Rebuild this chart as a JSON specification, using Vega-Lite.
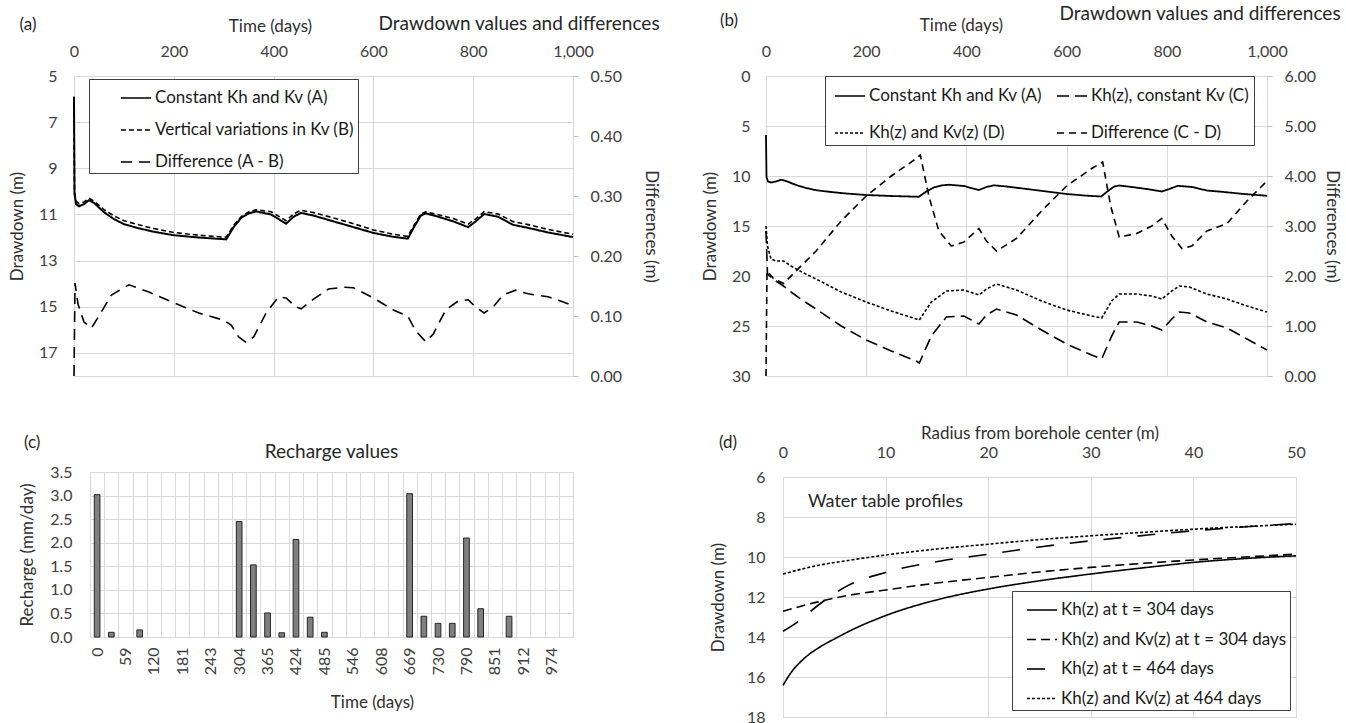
{
 "$schema": "https://vega.github.io/schema/vega-lite/v6.json",
 "autosize": "none",
 "padding": {"left": 74, "top": 76, "right": 1272, "bottom": 647},
 "background": "white",
 "config": {
  "font": "Lato",
  "view": {"stroke": null},
  "axis": {"labelFontSize": 16, "titleFontSize": 17, "titleFontWeight": "normal", "labelColor": "#404040", "titleColor": "#303030", "gridColor": "#d9d9d9", "domain": false, "ticks": false, "tickColor": "#bfbfbf", "labelFlush": false, "labelOverlap": false},
  "legend": {"labelFontSize": 17, "labelColor": "#1a1a1a", "strokeColor": "#404040", "fillColor": "white", "symbolSize": 900, "symbolStrokeWidth": 1.6, "symbolStrokeColor": "black", "labelLimit": 400, "labelOffset": 3},
  "title": {"fontWeight": "normal", "color": "#262626"},
  "line": {"color": "black", "strokeWidth": 1.6},
  "text": {"color": "#262626"}
 },
 "datasets": {
  "curveA": [
   {"t":0,"v":5.9,"s":"A"},{"t":1,"v":10.1,"s":"A"},{"t":4,"v":10.55,"s":"A"},{"t":10,"v":10.65,"s":"A"},{"t":20,"v":10.55,"s":"A"},{"t":30,"v":10.38,"s":"A"},{"t":40,"v":10.5,"s":"A"},{"t":60,"v":10.9,"s":"A"},{"t":80,"v":11.2,"s":"A"},{"t":100,"v":11.42,"s":"A"},{"t":130,"v":11.6,"s":"A"},{"t":160,"v":11.75,"s":"A"},{"t":200,"v":11.9,"s":"A"},{"t":250,"v":12.0,"s":"A"},{"t":300,"v":12.07,"s":"A"},{"t":305,"v":12.08,"s":"A"},{"t":320,"v":11.55,"s":"A"},{"t":335,"v":11.15,"s":"A"},{"t":350,"v":10.95,"s":"A"},{"t":365,"v":10.87,"s":"A"},{"t":395,"v":11.0,"s":"A"},{"t":425,"v":11.4,"s":"A"},{"t":440,"v":11.1,"s":"A"},{"t":455,"v":10.93,"s":"A"},{"t":480,"v":11.05,"s":"A"},{"t":520,"v":11.3,"s":"A"},{"t":560,"v":11.55,"s":"A"},{"t":600,"v":11.8,"s":"A"},{"t":640,"v":11.97,"s":"A"},{"t":669,"v":12.05,"s":"A"},{"t":680,"v":11.6,"s":"A"},{"t":695,"v":11.05,"s":"A"},{"t":705,"v":10.95,"s":"A"},{"t":730,"v":11.1,"s":"A"},{"t":760,"v":11.3,"s":"A"},{"t":790,"v":11.55,"s":"A"},{"t":805,"v":11.3,"s":"A"},{"t":822,"v":10.98,"s":"A"},{"t":850,"v":11.1,"s":"A"},{"t":880,"v":11.45,"s":"A"},{"t":910,"v":11.58,"s":"A"},{"t":950,"v":11.78,"s":"A"},{"t":1000,"v":11.98,"s":"A"}
  ],
  "aB": [
   {"t":0,"v":5.9,"s":"B"},{"t":1,"v":10.02,"s":"B"},{"t":4,"v":10.41,"s":"B"},{"t":10,"v":10.54,"s":"B"},{"t":20,"v":10.46,"s":"B"},{"t":30,"v":10.3,"s":"B"},{"t":40,"v":10.42,"s":"B"},{"t":60,"v":10.79,"s":"B"},{"t":80,"v":11.06,"s":"B"},{"t":100,"v":11.27,"s":"B"},{"t":130,"v":11.45,"s":"B"},{"t":160,"v":11.61,"s":"B"},{"t":200,"v":11.78,"s":"B"},{"t":250,"v":11.9,"s":"B"},{"t":300,"v":11.98,"s":"B"},{"t":305,"v":11.99,"s":"B"},{"t":320,"v":11.47,"s":"B"},{"t":335,"v":11.09,"s":"B"},{"t":350,"v":10.89,"s":"B"},{"t":365,"v":10.8,"s":"B"},{"t":395,"v":10.88,"s":"B"},{"t":425,"v":11.27,"s":"B"},{"t":440,"v":10.98,"s":"B"},{"t":455,"v":10.82,"s":"B"},{"t":480,"v":10.92,"s":"B"},{"t":520,"v":11.15,"s":"B"},{"t":560,"v":11.4,"s":"B"},{"t":600,"v":11.67,"s":"B"},{"t":640,"v":11.86,"s":"B"},{"t":669,"v":11.95,"s":"B"},{"t":680,"v":11.52,"s":"B"},{"t":695,"v":10.98,"s":"B"},{"t":705,"v":10.89,"s":"B"},{"t":730,"v":11.01,"s":"B"},{"t":760,"v":11.18,"s":"B"},{"t":790,"v":11.42,"s":"B"},{"t":805,"v":11.19,"s":"B"},{"t":822,"v":10.88,"s":"B"},{"t":850,"v":10.98,"s":"B"},{"t":880,"v":11.31,"s":"B"},{"t":910,"v":11.44,"s":"B"},{"t":950,"v":11.65,"s":"B"},{"t":1000,"v":11.86,"s":"B"}
  ],
  "aDiff": [
   {"t":0,"v":0,"s":"D"},{"t":2,"v":0.155,"s":"D"},{"t":8,"v":0.12,"s":"D"},{"t":20,"v":0.09,"s":"D"},{"t":35,"v":0.08,"s":"D"},{"t":50,"v":0.1,"s":"D"},{"t":75,"v":0.135,"s":"D"},{"t":110,"v":0.152,"s":"D"},{"t":150,"v":0.14,"s":"D"},{"t":200,"v":0.122,"s":"D"},{"t":250,"v":0.105,"s":"D"},{"t":300,"v":0.093,"s":"D"},{"t":315,"v":0.085,"s":"D"},{"t":330,"v":0.065,"s":"D"},{"t":345,"v":0.056,"s":"D"},{"t":360,"v":0.065,"s":"D"},{"t":385,"v":0.105,"s":"D"},{"t":410,"v":0.132,"s":"D"},{"t":425,"v":0.13,"s":"D"},{"t":445,"v":0.115,"s":"D"},{"t":455,"v":0.112,"s":"D"},{"t":480,"v":0.128,"s":"D"},{"t":510,"v":0.145,"s":"D"},{"t":540,"v":0.148,"s":"D"},{"t":560,"v":0.147,"s":"D"},{"t":600,"v":0.13,"s":"D"},{"t":640,"v":0.11,"s":"D"},{"t":669,"v":0.1,"s":"D"},{"t":685,"v":0.075,"s":"D"},{"t":705,"v":0.057,"s":"D"},{"t":720,"v":0.07,"s":"D"},{"t":745,"v":0.11,"s":"D"},{"t":770,"v":0.125,"s":"D"},{"t":790,"v":0.127,"s":"D"},{"t":805,"v":0.115,"s":"D"},{"t":822,"v":0.105,"s":"D"},{"t":840,"v":0.115,"s":"D"},{"t":860,"v":0.135,"s":"D"},{"t":885,"v":0.143,"s":"D"},{"t":910,"v":0.137,"s":"D"},{"t":950,"v":0.132,"s":"D"},{"t":975,"v":0.125,"s":"D"},{"t":1000,"v":0.117,"s":"D"}
  ],
  "bCD": [
   {"t":0,"v":15.5,"s":"C"},{"t":3,"v":19.8,"s":"C"},{"t":10,"v":20.1,"s":"C"},{"t":20,"v":20.5,"s":"C"},{"t":35,"v":21.0,"s":"C"},{"t":50,"v":21.6,"s":"C"},{"t":75,"v":22.5,"s":"C"},{"t":100,"v":23.3,"s":"C"},{"t":150,"v":25.0,"s":"C"},{"t":200,"v":26.4,"s":"C"},{"t":250,"v":27.5,"s":"C"},{"t":300,"v":28.5,"s":"C"},{"t":306,"v":28.7,"s":"C"},{"t":330,"v":26.0,"s":"C"},{"t":360,"v":24.1,"s":"C"},{"t":395,"v":24.0,"s":"C"},{"t":425,"v":24.8,"s":"C"},{"t":440,"v":23.9,"s":"C"},{"t":460,"v":23.3,"s":"C"},{"t":500,"v":23.9,"s":"C"},{"t":550,"v":25.4,"s":"C"},{"t":600,"v":26.8,"s":"C"},{"t":650,"v":27.9,"s":"C"},{"t":670,"v":28.3,"s":"C"},{"t":690,"v":26.0,"s":"C"},{"t":705,"v":24.6,"s":"C"},{"t":740,"v":24.6,"s":"C"},{"t":770,"v":25.0,"s":"C"},{"t":790,"v":25.4,"s":"C"},{"t":810,"v":24.3,"s":"C"},{"t":825,"v":23.6,"s":"C"},{"t":845,"v":23.7,"s":"C"},{"t":880,"v":24.6,"s":"C"},{"t":920,"v":25.2,"s":"C"},{"t":960,"v":26.3,"s":"C"},{"t":1000,"v":27.4,"s":"C"},
   {"t":0,"v":15.0,"s":"D"},{"t":3,"v":17.0,"s":"D"},{"t":10,"v":18.3,"s":"D"},{"t":20,"v":18.5,"s":"D"},{"t":35,"v":18.5,"s":"D"},{"t":50,"v":19.0,"s":"D"},{"t":75,"v":19.7,"s":"D"},{"t":100,"v":20.3,"s":"D"},{"t":150,"v":21.6,"s":"D"},{"t":200,"v":22.6,"s":"D"},{"t":250,"v":23.5,"s":"D"},{"t":300,"v":24.3,"s":"D"},{"t":306,"v":24.4,"s":"D"},{"t":330,"v":22.6,"s":"D"},{"t":360,"v":21.5,"s":"D"},{"t":395,"v":21.4,"s":"D"},{"t":425,"v":21.9,"s":"D"},{"t":440,"v":21.3,"s":"D"},{"t":460,"v":20.8,"s":"D"},{"t":500,"v":21.4,"s":"D"},{"t":550,"v":22.5,"s":"D"},{"t":600,"v":23.4,"s":"D"},{"t":650,"v":24.0,"s":"D"},{"t":670,"v":24.2,"s":"D"},{"t":690,"v":22.5,"s":"D"},{"t":705,"v":21.8,"s":"D"},{"t":740,"v":21.8,"s":"D"},{"t":770,"v":22.0,"s":"D"},{"t":790,"v":22.3,"s":"D"},{"t":810,"v":21.5,"s":"D"},{"t":825,"v":21.0,"s":"D"},{"t":845,"v":21.1,"s":"D"},{"t":880,"v":21.8,"s":"D"},{"t":920,"v":22.3,"s":"D"},{"t":960,"v":23.0,"s":"D"},{"t":1000,"v":23.6,"s":"D"}
  ],
  "bDiff": [
   {"t":0,"v":0,"s":"E"},{"t":2,"v":2.1,"s":"E"},{"t":15,"v":1.95,"s":"E"},{"t":35,"v":1.85,"s":"E"},{"t":60,"v":2.1,"s":"E"},{"t":100,"v":2.5,"s":"E"},{"t":150,"v":3.1,"s":"E"},{"t":200,"v":3.6,"s":"E"},{"t":250,"v":4.0,"s":"E"},{"t":300,"v":4.35,"s":"E"},{"t":308,"v":4.42,"s":"E"},{"t":325,"v":3.6,"s":"E"},{"t":345,"v":2.9,"s":"E"},{"t":370,"v":2.6,"s":"E"},{"t":395,"v":2.68,"s":"E"},{"t":425,"v":2.95,"s":"E"},{"t":440,"v":2.7,"s":"E"},{"t":460,"v":2.5,"s":"E"},{"t":500,"v":2.75,"s":"E"},{"t":550,"v":3.3,"s":"E"},{"t":600,"v":3.8,"s":"E"},{"t":650,"v":4.15,"s":"E"},{"t":672,"v":4.28,"s":"E"},{"t":688,"v":3.4,"s":"E"},{"t":705,"v":2.78,"s":"E"},{"t":740,"v":2.85,"s":"E"},{"t":770,"v":3.0,"s":"E"},{"t":790,"v":3.15,"s":"E"},{"t":810,"v":2.8,"s":"E"},{"t":830,"v":2.55,"s":"E"},{"t":850,"v":2.6,"s":"E"},{"t":880,"v":2.9,"s":"E"},{"t":920,"v":3.05,"s":"E"},{"t":960,"v":3.5,"s":"E"},{"t":1000,"v":3.9,"s":"E"}
  ],
  "recharge": [
   {"t":0,"r":3.02},{"t":31,"r":0.1},{"t":90,"r":0.15},{"t":304,"r":2.45},{"t":334,"r":1.53},{"t":365,"r":0.51},{"t":396,"r":0.09},{"t":424,"r":2.07},{"t":455,"r":0.42},{"t":485,"r":0.1},{"t":669,"r":3.04},{"t":699,"r":0.44},{"t":730,"r":0.29},{"t":761,"r":0.29},{"t":790,"r":2.1},{"t":821,"r":0.6},{"t":882,"r":0.44}
  ],
  "profiles": [
   {"r":0,"v":16.42,"s":"P1"},{"r":0.7,"v":15.84,"s":"P1"},{"r":2,"v":15.1,"s":"P1"},{"r":3.6,"v":14.5,"s":"P1"},{"r":5,"v":14.1,"s":"P1"},{"r":6.9,"v":13.6,"s":"P1"},{"r":10,"v":12.93,"s":"P1"},{"r":14.7,"v":12.18,"s":"P1"},{"r":20,"v":11.6,"s":"P1"},{"r":25,"v":11.19,"s":"P1"},{"r":30,"v":10.85,"s":"P1"},{"r":36,"v":10.49,"s":"P1"},{"r":40,"v":10.27,"s":"P1"},{"r":44.3,"v":10.1,"s":"P1"},{"r":50,"v":9.94,"s":"P1"},
   {"r":0,"v":12.71,"s":"P2"},{"r":3.2,"v":12.27,"s":"P2"},{"r":6,"v":11.95,"s":"P2"},{"r":10,"v":11.65,"s":"P2"},{"r":15,"v":11.3,"s":"P2"},{"r":20,"v":11.02,"s":"P2"},{"r":25,"v":10.75,"s":"P2"},{"r":30,"v":10.52,"s":"P2"},{"r":35,"v":10.32,"s":"P2"},{"r":40,"v":10.15,"s":"P2"},{"r":45,"v":10.0,"s":"P2"},{"r":50,"v":9.86,"s":"P2"},
   {"r":0,"v":13.71,"s":"P3"},{"r":1.6,"v":13.18,"s":"P3"},{"r":3.2,"v":12.5,"s":"P3"},{"r":6,"v":11.52,"s":"P3"},{"r":10,"v":10.77,"s":"P3"},{"r":15.5,"v":10.19,"s":"P3"},{"r":20,"v":9.86,"s":"P3"},{"r":25,"v":9.5,"s":"P3"},{"r":30,"v":9.19,"s":"P3"},{"r":35,"v":8.93,"s":"P3"},{"r":40,"v":8.69,"s":"P3"},{"r":44,"v":8.53,"s":"P3"},{"r":50,"v":8.33,"s":"P3"},
   {"r":0,"v":10.85,"s":"P4"},{"r":3.2,"v":10.44,"s":"P4"},{"r":6,"v":10.2,"s":"P4"},{"r":10,"v":9.9,"s":"P4"},{"r":15,"v":9.6,"s":"P4"},{"r":20,"v":9.36,"s":"P4"},{"r":25,"v":9.13,"s":"P4"},{"r":30,"v":8.94,"s":"P4"},{"r":35,"v":8.77,"s":"P4"},{"r":40,"v":8.61,"s":"P4"},{"r":45,"v":8.48,"s":"P4"},{"r":50,"v":8.36,"s":"P4"}
  ]
 },
 "resolve": {"scale": {"strokeDash": "independent"}},
 "spacing": 396,
 "bounds": "flush",
 "vconcat": [
  {
   "hconcat": [
    {
     "width": 499, "height": 300,
     "view": {"stroke": "#d9d9d9"},
     "title": {"text": "Drawdown values and differences", "anchor": "end", "frame": "bounds", "fontSize": 19, "dy": 22},
     "resolve": {"scale": {"y": "independent"}},
     "layer": [
      {"layer": [
       {"data": {"name": "curveA"}, "mark": {"type": "line", "strokeWidth": 2},
        "encoding": {
         "x": {"field": "t", "type": "quantitative", "scale": {"domain": [0, 1000], "nice": false}, "axis": {"orient": "top", "title": "Time (days)", "values": [0,200,400,600,800,1000], "tickCount": 20, "format": ",d", "grid": true, "labelOverlap": false, "labelPadding": 17, "titleX": 196, "titleY": -45, "titleBaseline": "alphabetic"}},
         "y": {"field": "v", "type": "quantitative", "scale": {"domain": [5, 18], "reverse": true, "nice": false, "zero": false}, "axis": {"title": "Drawdown (m)", "values": [5,7,9,11,13,15,17], "tickCount": 20, "format": "d", "grid": true, "labelOverlap": false, "labelPadding": 17, "titlePadding": 12}},
         "strokeDash": {"field": "s", "type": "nominal", "scale": {"domain": ["A","B","D"], "range": [[1,0],[5,3],[11,7]]},
          "legend": {"title": " ", "titleOrient": "left", "titleFontSize": 2, "titlePadding": 28, "orient": "none", "legendX": 15, "legendY": 3, "padding": 3, "rowPadding": 8,
           "labelExpr": "datum.label == 'A' ? 'Constant Kh and Kv (A)' : datum.label == 'B' ? 'Vertical variations in Kv (B)' : 'Difference (A - B)'"}}
        }},
       {"data": {"name": "aB"}, "mark": {"type": "line", "strokeWidth": 1.6},
        "encoding": {
         "x": {"field": "t", "type": "quantitative"},
         "y": {"field": "v", "type": "quantitative"},
         "strokeDash": {"field": "s", "type": "nominal"}
        }},
       {"data": {"values": [{"label": "(a)"}]}, "mark": {"type": "text", "fontSize": 17, "dx": -46, "dy": -51},
        "encoding": {"x": {"datum": 0, "type": "quantitative"}, "y": {"datum": 5, "type": "quantitative"}, "text": {"field": "label"}}}
      ]},
      {"data": {"name": "aDiff"}, "mark": {"type": "line", "strokeWidth": 1.6},
       "encoding": {
        "x": {"field": "t", "type": "quantitative"},
        "y": {"field": "v", "type": "quantitative", "scale": {"domain": [0, 0.5], "nice": false}, "axis": {"orient": "right", "title": "Differences (m)", "values": [0,0.1,0.2,0.3,0.4,0.5], "tickCount": 20, "format": ".2f", "grid": false, "labelOverlap": false, "ticks": true, "tickSize": 5, "labelPadding": 12, "titlePadding": 20}},
        "strokeDash": {"field": "s", "type": "nominal"}
       }}
     ]
    },
    {
     "width": 501, "height": 300,
     "view": {"stroke": "#d9d9d9"},
     "title": {"text": "Drawdown values and differences", "anchor": "end", "frame": "bounds", "fontSize": 19, "dy": 16},
     "resolve": {"scale": {"y": "independent"}},
     "layer": [
      {"layer": [
       {"data": {"name": "curveA"}, "mark": {"type": "line", "strokeWidth": 1.8},
        "encoding": {
         "x": {"field": "t", "type": "quantitative", "scale": {"domain": [0, 1000], "nice": false}, "axis": {"orient": "top", "title": "Time (days)", "values": [0,200,400,600,800,1000], "tickCount": 20, "format": ",d", "grid": true, "labelOverlap": false, "labelPadding": 17, "titleX": 195, "titleY": -46, "titleBaseline": "alphabetic"}},
         "y": {"field": "v", "type": "quantitative", "scale": {"domain": [0, 30], "reverse": true, "nice": false, "zero": false}, "axis": {"title": "Drawdown (m)", "values": [0,5,10,15,20,25,30], "tickCount": 20, "format": "d", "grid": true, "labelOverlap": false, "labelPadding": 16, "titlePadding": 12}},
         "strokeDash": {"field": "s", "type": "nominal", "scale": {"domain": ["A","D","C","E"], "range": [[1,0],[3,2],[12,6],[7,5]]},
          "legend": {"title": " ", "titleOrient": "left", "titleFontSize": 2, "titlePadding": 5, "orient": "none", "legendX": 59, "legendY": 0, "padding": 4, "rowPadding": 13, "columns": 2, "columnPadding": 10,
           "labelExpr": "datum.label == 'A' ? 'Constant Kh and Kv (A)' : datum.label == 'C' ? 'Kh(z), constant Kv (C)' : datum.label == 'D' ? 'Kh(z) and Kv(z) (D)' : 'Difference (C - D)'"}}
        }},
       {"data": {"name": "bCD"}, "mark": {"type": "line", "strokeWidth": 1.6},
        "encoding": {
         "x": {"field": "t", "type": "quantitative"},
         "y": {"field": "v", "type": "quantitative"},
         "strokeDash": {"field": "s", "type": "nominal"}
        }},
       {"data": {"values": [{"label": "(b)"}]}, "mark": {"type": "text", "fontSize": 17, "dx": -37, "dy": -55},
        "encoding": {"x": {"datum": 0, "type": "quantitative"}, "y": {"datum": 0, "type": "quantitative"}, "text": {"field": "label"}}}
      ]},
      {"data": {"name": "bDiff"}, "mark": {"type": "line", "strokeWidth": 1.6},
       "encoding": {
        "x": {"field": "t", "type": "quantitative"},
        "y": {"field": "v", "type": "quantitative", "scale": {"domain": [0, 6], "nice": false}, "axis": {"orient": "right", "title": "Differences (m)", "values": [0,1,2,3,4,5,6], "tickCount": 20, "format": ".2f", "grid": false, "labelOverlap": false, "ticks": true, "tickSize": 5, "labelPadding": 12, "titlePadding": 7}},
        "strokeDash": {"field": "s", "type": "nominal"}
       }}
     ]
    }
   ],
   "spacing": 193,
   "bounds": "flush",
   "resolve": {"scale": {"strokeDash": "independent"}}
  },
  {
   "hconcat": [
    {
     "hconcat": [
      {"width": 1, "height": 1, "data": {"values": [{"k": 0}]}, "mark": {"type": "point", "opacity": 0}},
      {
       "width": 483, "height": 165,
       "view": {"stroke": "#d9d9d9"},
       "title": {"text": "Recharge values", "fontSize": 19, "dy": 32},
       "layer": [
        {"data": {"name": "recharge"}, "mark": {"type": "bar", "width": {"band": 0.4}, "fill": "#7f7f7f", "stroke": "#262626", "strokeWidth": 1},
         "encoding": {
          "x": {"field": "t", "type": "ordinal", "scale": {"domain": [0,31,59,90,120,151,181,212,243,273,304,334,365,396,424,455,485,516,546,577,608,638,669,699,730,761,790,821,851,882,912,943,974,1004], "paddingInner": 0, "paddingOuter": 0},
           "axis": {"title": "Time (days)", "labelAngle": -90, "labelOverlap": false, "labelExpr": "indexof(['0','59','120','181','243','304','365','424','485','546','608','669','730','790','851','912','974'], datum.label) >= 0 ? datum.label : ''", "grid": true, "tickBand": "extent", "labelPadding": 10, "titlePadding": 20, "titleX": 282}},
          "y": {"field": "r", "type": "quantitative", "scale": {"domain": [0, 3.5], "nice": false}, "axis": {"title": "Recharge (mm/day)", "values": [0,0.5,1,1.5,2,2.5,3,3.5], "tickCount": 20, "format": ".1f", "grid": true, "labelOverlap": false, "labelPadding": 18, "titlePadding": 13}}
         }},
        {"data": {"values": [{"label": "(c)"}]}, "mark": {"type": "text", "fontSize": 17, "dx": -65, "dy": -29},
         "encoding": {"x": {"datum": 0, "type": "ordinal"}, "y": {"datum": 3.5, "type": "quantitative"}, "text": {"field": "label"}}}
       ]
      }
     ],
     "spacing": 15,
     "bounds": "flush"
    },
    {
     "vconcat": [
      {"width": 1, "height": 1, "data": {"values": [{"k": 0}]}, "mark": {"type": "point", "opacity": 0}},
      {
       "width": 513, "height": 240,
       "view": {"stroke": "#d9d9d9"},
       "layer": [
        {"data": {"name": "profiles"}, "mark": {"type": "line", "strokeWidth": 1.6, "interpolate": "monotone"},
         "encoding": {
          "x": {"field": "r", "type": "quantitative", "scale": {"domain": [0, 50], "nice": false}, "axis": {"orient": "top", "title": "Radius from borehole center (m)", "values": [0,10,20,30,40,50], "tickCount": 20, "format": "d", "grid": true, "labelOverlap": false, "labelPadding": 17, "titlePadding": 2}},
          "y": {"field": "v", "type": "quantitative", "scale": {"domain": [6, 18], "reverse": true, "nice": false, "zero": false}, "axis": {"title": "Drawdown (m)", "values": [6,8,10,12,14,16,18], "tickCount": 20, "format": "d", "grid": true, "labelOverlap": false, "labelPadding": 18, "titlePadding": 19}},
          "strokeDash": {"field": "s", "type": "nominal", "scale": {"domain": ["P1","P2","P3","P4"], "range": [[1,0],[9,5],[18,16],[3,2]]},
           "legend": {"title": " ", "titleOrient": "left", "titleFontSize": 2, "titlePadding": 11, "orient": "none", "legendX": 229, "legendY": 119, "padding": 3, "rowPadding": 5.5,
            "labelExpr": "datum.label == 'P1' ? 'Kh(z) at t = 304 days' : datum.label == 'P2' ? 'Kh(z) and Kv(z) at t = 304 days' : datum.label == 'P3' ? 'Kh(z) at t = 464 days' : 'Kh(z) and Kv(z) at 464 days'"}}
         }},
        {"data": {"values": [{"label": "(d)"}]}, "mark": {"type": "text", "fontSize": 17, "dx": -55, "dy": -34},
         "encoding": {"x": {"datum": 0, "type": "quantitative"}, "y": {"datum": 6, "type": "quantitative"}, "text": {"field": "label"}}},
        {"data": {"values": [{"label": "Water table profiles"}]}, "mark": {"type": "text", "fontSize": 18, "align": "left", "dx": 25, "dy": 25},
         "encoding": {"x": {"datum": 0, "type": "quantitative"}, "y": {"datum": 6, "type": "quantitative"}, "text": {"field": "label"}}}
       ]
      }
     ],
     "spacing": 4,
     "bounds": "flush"
    }
   ],
   "spacing": 709,
   "bounds": "flush",
   "resolve": {"scale": {"strokeDash": "independent"}}
  }
 ]
}
